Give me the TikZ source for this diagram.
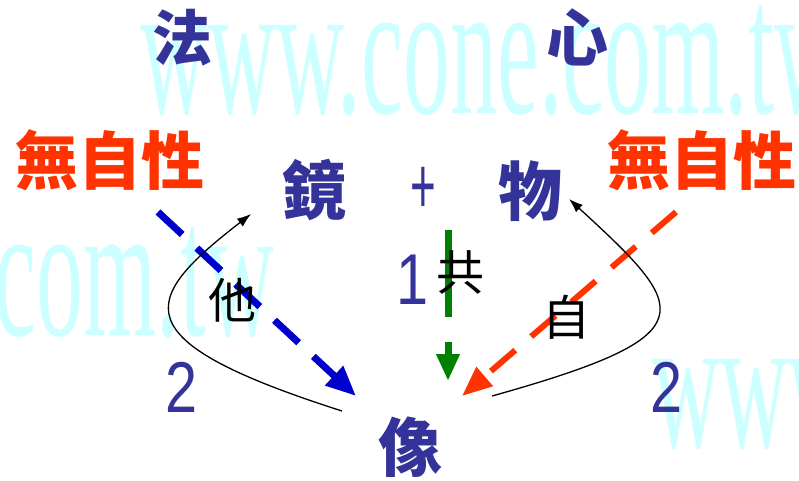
\documentclass[tikz,border=0pt]{standalone}
\usepackage{fontspec}
\setmainfont{Liberation Serif}
\newfontfamily\cjk{Noto Sans CJK TC}
\newfontfamily\digitfont{Liberation Sans}
\usetikzlibrary{arrows.meta}
\definecolor{ink}{RGB}{51,51,153}
\definecolor{wuzi}{RGB}{255,51,0}
\definecolor{tablue}{RGB}{0,0,204}
\definecolor{gonggreen}{RGB}{0,128,0}
\definecolor{markcyan}{RGB}{204,255,255}
\tikzset{
  han/.style={inner sep=0pt, text=ink, font=\cjk\bfseries\fontsize{64}{64}\selectfont},
  wuxing/.style={inner sep=0pt, text=wuzi, font=\cjk\bfseries\fontsize{63}{63}\selectfont},
  yuan/.style={inner sep=0pt, text=black, font=\cjk\fontsize{48}{48}\selectfont},
  num/.style={inner sep=0pt, text=ink, font=\digitfont\fontsize{72}{72}\selectfont},
  wmark/.style={inner sep=0pt, text=markcyan, font=\fontsize{192}{192}\selectfont, anchor=base west},
}
\begin{document}
\begin{tikzpicture}[x=1pt,y=-1pt]
    \clip (0,0) rectangle (799,480);

    % watermark
    \node[wmark] (wm1) at ( 140, 113) {\scalebox{0.49}[1]{www.cone.com.tw}};
    \node[wmark] (wm2) at (-428, 335) {\scalebox{0.49}[1]{www.cone.com.tw}};
    \node[wmark] (wm3) at ( 652, 447) {\scalebox{0.49}[1]{www.cone.com.tw}};

    \node[han, font=\cjk\bfseries\fontsize{60}{60}\selectfont] (fa) at (182, 38) {法};
    \node[han, font=\cjk\bfseries\fontsize{62}{62}\selectfont] (xin) at (577, 37) {心};

    \node[wuxing] (lwu) at (110, 160) {無自性};
    \node[wuxing] (rwu) at (702, 160) {無自性};

    \node[han] (jing) at (314, 190) {鏡};
    \node[num, font=\digitfont\fontsize{80}{80}\selectfont] (plus) at (423, 190) {\scalebox{0.55}[1]{+}};
    \node[han] (wu) at (530, 191) {物};

    \node[han] (xiang) at (410, 447) {像};

    \coordinate (tas) at (158, 212);
    \coordinate (tae) at (356, 396);
    \coordinate (zis) at (676, 212);
    \coordinate (zie) at (462, 396);
    \coordinate (gos) at (448, 230);
    \coordinate (goe) at (448, 381);
    \coordinate (lcs) at (342, 411);
    \coordinate (lce) at (251, 214);
    \coordinate (rcs) at (492, 396);
    \coordinate (rce) at (569, 199);

    \begin{scope}[line cap=butt]
       \draw[tablue, line width=7pt, dash pattern=on 33pt off 20pt,
             -{Triangle[length=30pt,width=25pt]}] (tas) -- (tae);
       \draw[wuzi, line width=6pt, dash pattern=on 32pt off 21pt,
             -{Triangle[length=30pt,width=24pt]}] (zis) -- (zie);
       \draw[gonggreen, line width=7pt, dash pattern=on 87pt off 25pt,
             -{Triangle[length=27pt,width=22pt]}] (gos) -- (goe);

       \draw[black, line width=1.3pt, -{Latex[length=14pt,width=10pt]}]
          (lcs) .. controls (120, 340) and (140, 300) .. (lce);
       \draw[black, line width=1.3pt, -{Latex[length=14pt,width=10pt]}]
          (rcs) .. controls (710, 335) and (690, 310) .. (rce);
    \end{scope}

    \node[num] (one) at (413, 280) {\scalebox{0.8}[1]{1}};
    \node[yuan] (gong) at (460, 272) {共};
    \node[yuan] (ta) at (232, 300) {他};
    \node[yuan] (zi) at (566, 317) {自};

    \node[num] (ltwo) at (182, 387) {\scalebox{0.8}[1]{2}};
    \node[num] (rtwo) at (667, 387) {\scalebox{0.8}[1]{2}};
\end{tikzpicture}
\end{document}
